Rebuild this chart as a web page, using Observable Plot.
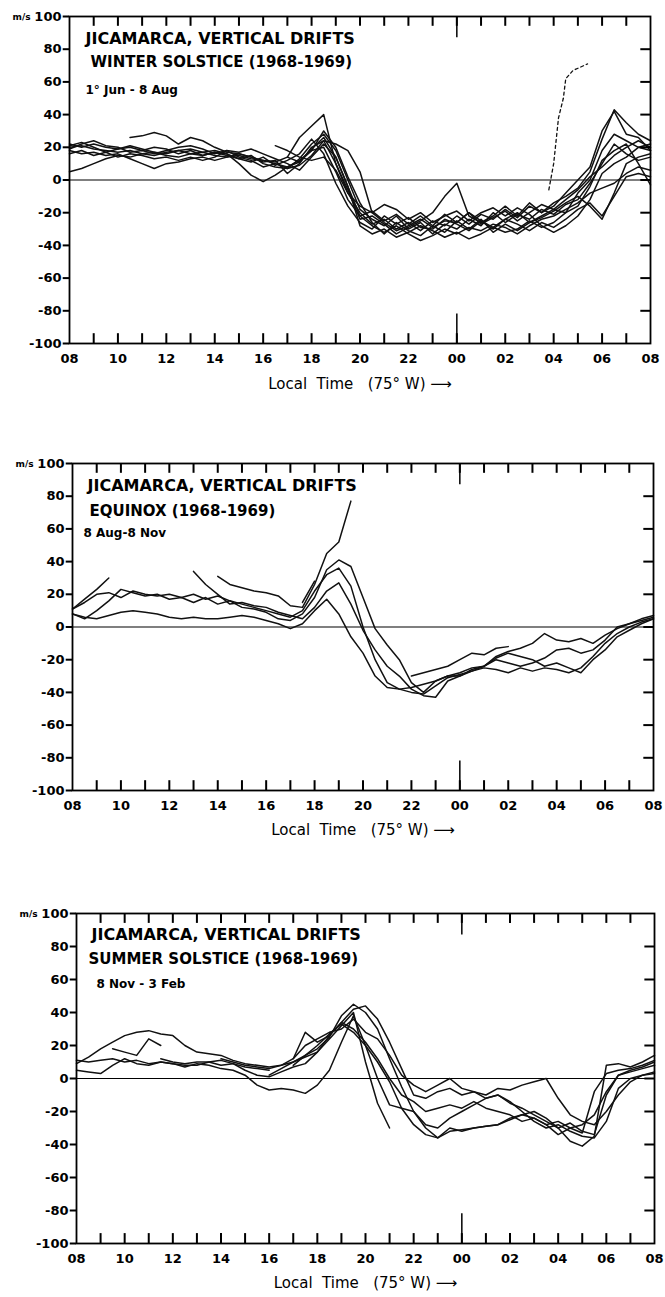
<!DOCTYPE html>
<html><head><meta charset="utf-8">
<script src="https://cdn.jsdelivr.net/npm/d3@7"></script>
<script src="https://cdn.jsdelivr.net/npm/@observablehq/plot@0.6"></script>
<style>
body{margin:0;background:#fff;}
#chart{width:665px;}
#chart svg{display:block;}
</style></head><body><div id="chart"></div>
<script>
const _ = null;
// time grid: local time in hours, 08 -> 08 next day (32), every half hour
const hours = d3.range(8, 32.001, 0.5);
const yTicks = [-100, -80, -60, -40, -20, 0, 20, 40, 60, 80, 100];
const hourTicks = [9,10,11,12,13,14,15,16,17,18,19,20,21,22,23,24,25,26,27,28,29,30,31];
const labelTicks = [8,10,12,14,16,18,20,22,24,26,28,30,32];
const midnight = [24];

// ---------- WINTER SOLSTICE ----------
const w1 = [20,21,19,18,17,18,16,15, 17,18,16,17,15,14,15,13, 12,11,14,26,33,40,10,-8, -20,-27,-24,-30,-26,-31,-25,-28, -22,-27,-21,-24,-18,-23,-16,-20, -14,-10,-5,5,25,43,35,28, 24];
const w2 = [22,20,22,20,19,20,18,20, 19,16,18,15,17,16,13,15, 10,8,7,13,22,28,18,0, -18,-24,-28,-22,-30,-26,-33,-27, -30,-24,-28,-20,-26,-21,-24,-18, -21,-15,-12,-2,10,22,16,12, 14];
const w3 = [5,7,10,13,15,14,16,17, 16,18,19,17,18,16,10,3, -1,3,8,12,18,20,5,-12, -22,-28,-32,-28,-33,-37,-34,-30, -33,-29,-31,-27,-29,-33,-28,-24, -22,-18,-14,-8,-5,-2,4,8, 6];
const w4 = [_,_,_,_,_,26,27,29, 27,22,26,24,20,17,16,14, 12,10,7,9,15,24,22,18, 5,-20,-26,-31,-28,-24,-29,-25, -26,-20,-25,-29,-24,-20,-26,-22, -18,-20,-8,0,18,28,24,20, 18];
const w5 = [18,16,17,15,16,13,10,7, 10,11,13,14,12,14,16,14, 11,12,4,10,20,24,10,-6, -24,-22,-27,-33,-29,-25,-20,-10, -2,-22,-26,-22,-16,-22,-14,-20, -16,-8,0,8,30,42,28,26, 18];
const w6 = [21,23,20,17,19,21,19,17, 15,14,16,15,17,15,13,11, 14,9,12,16,25,16,-2,-16, -26,-30,-22,-27,-23,-29,-30,-24, -27,-31,-25,-30,-24,-27,-31,-26, -29,-24,-18,-14,-22,-10,2,4, 2];
const w7 = [_,_,_,_,_,_,_,_, _,_,_,_,_,_,_,_, _,21,18,14,12,14,6,-8, -16,-20,-15,-18,-24,-20,-26,-22, -19,-25,-20,-17,-22,-17,-21,-28, -32,-28,-22,-12,4,10,14,20, 22];
const w8 = [16,18,15,17,14,16,15,13, 14,12,14,12,14,18,17,19, 16,13,10,6,14,22,14,-4, -28,-33,-30,-35,-32,-28,-31,-35, -32,-36,-33,-29,-32,-30,-25,-29, -26,-20,-16,-4,12,18,22,10, -3];
const w9 = [_,_,_,_,_,_,_,_, _,_,_,_,_,_,_,_, _,_,14,11,18,30,20,2, -14,-26,-33,-26,-31,-34,-28,-32, -25,-30,-24,-32,-27,-31,-26,-23, -19,-14,-10,-16,-24,-8,10,14, 16];
const w10 = [19,22,24,21,20,17,18,16, 18,20,21,19,16,18,14,12, 8,10,8,11,19,26,14,-4, -22,-19,-25,-21,-27,-22,-28,-21, -26,-20,-27,-23,-19,-25,-20,-15, -18,-12,-6,2,8,15,20,24, 20];
const winterDashT = [27.8, 28.0, 28.2, 28.4, 28.5, 28.8, 29.1, 29.4];
const winterDashV = [-6, 10, 38, 50, 62, 67, 69, 71];

// ---------- EQUINOX ----------
const e1 = [11,17,23,30,_,_,_,_, _,_,_,_,_,_,_,_, _,_,_,_,_,_,_,_, _,_,_,_,_,_,_,_, _,_,_,_,_,_,_,_, _,_,_,_,_,_,_,_, _];
const e2 = [11,15,20,21,18,22,20,19, 20,18,20,17,19,16,14,12, 10,8,6,10,22,32,36,25, 0,-20,-34,-38,-37,-35,-33,-30, -30,-26,-24,-18,-15,-13,-10,-4, -8,-9,-7,-10,-5,-1,2,5, 7];
const e3 = [8,5,10,16,23,21,19,20, 17,18,15,18,14,16,12,11, 9,5,4,8,18,35,41,37, 18,-1,-11,-20,-34,-40,-33,-30, -28,-25,-24,-20,-22,-24,-22,-19, -14,-13,-16,-14,-8,0,2,4, 6];
const e4 = [8,6,5,7,9,10,9,8, 6,5,6,5,5,6,7,6, 4,2,-1,2,10,17,8,-6, -16,-30,-37,-38,-40,-41,-36,-31, -29,-27,-25,-26,-28,-25,-27,-25, -26,-28,-25,-18,-10,-4,0,3, 5];
const e5 = [_,_,_,_,_,_,_,_, _,_,34,26,20,14,15,13, 12,9,7,5,12,22,27,14, -2,-14,-24,-30,-38,-42,-43,-33, -30,-27,-24,-19,-16,-18,-20,-24, -22,-25,-28,-20,-14,-6,-2,2, 5];
const e6 = [_,_,_,_,_,_,_,_, _,_,_,_,31,26,24,22, 21,19,13,12,26,45,52,77, _,_,_,_,_,_,_,_, _,_,_,_,_,_,_,_, _,_,_,_,_,_,_,_, _];
const e7 = [_,_,_,_,_,_,_,_, _,_,_,_,_,_,_,_, _,_,_,15,28,_,_,_, _,_,_,_,_,_,_,_, _,_,_,_,_,_,_,_, _,_,_,_,_,_,_,_, _];
const e8 = [_,_,_,_,_,_,_,_, _,_,_,_,_,_,_,_, _,_,_,_,_,_,_,_, _,_,_,_,-30,-28,-26,-24, -20,-16,-17,-13,-12,_,_,_, _,_,_,_,_,_,_,_, _];

// ---------- SUMMER SOLSTICE ----------
const s1 = [9,13,18,22,26,28,29,27, 26,20,16,15,14,11,9,8, 7,8,10,14,18,25,38,45, 40,30,12,-5,-20,-30,-36,-30, -32,-30,-29,-28,-25,-22,-24,-28, -26,-30,-33,-8,3,5,6,8, 11];
const s2 = [_,_,_,_,_,_,_,_, _,_,_,_,_,_,_,_, 2,6,10,13,16,24,32,40, 10,-15,-30,_,_,_,_,_, _,_,_,_,_,_,_,_, _,_,_,_,_,_,_,_, _];
const s3 = [11,10,11,12,10,11,9,10, 9,8,8,10,11,9,5,2, 1,4,7,9,16,26,34,42, 44,36,22,6,-10,-12,-8,-6, -10,-8,-12,-10,-15,-18,-22,-26, -30,-27,-32,-34,-10,2,4,6, 8];
const s4 = [5,4,3,8,12,9,8,10, 9,7,9,8,6,5,2,-4, -7,-6,-7,-9,-4,5,22,38, 20,0,-16,-18,-20,-28,-30,-24, -20,-16,-12,-10,-14,-20,-26,-30, -28,-32,-35,-36,-26,-6,0,2, 4];
const s5 = [_,_,_,_,_,_,_,_, _,_,_,_,12,10,8,7, 6,8,12,20,24,28,30,36, 28,24,14,2,-4,-8,-4,0, -6,-8,-10,-6,-7,-4,-2,0, -12,-22,-26,-28,-20,-10,-2,2, 3];
const s6 = [_,_,_,_,_,_,_,_, _,_,_,_,_,_,_,_, _,_,8,14,20,27,33,28, 20,10,-2,-18,-28,-34,-36,-32, -31,-30,-29,-28,-24,-22,-20,-24, -30,-38,-41,-35,8,9,7,10, 14];
const s7 = [_,_,_,_,_,_,_,_, _,_,_,_,_,_,_,_, _,_,12,28,22,26,34,30, 22,12,0,-10,-14,-20,-18,-16, -18,-14,-18,-20,-22,-26,-24,-28, -34,-30,-28,-22,-8,2,5,7, 10];
const s8 = [_,_,_,18,16,14,24,20, _,_,_,_,_,_,_,_, _,_,_,_,_,_,_,_, _,_,_,_,_,_,_,_, _,_,_,_,_,_,_,_, _,_,_,_,_,_,_,_, _];
const s9 = [_,_,_,_,_,_,_,12, 10,9,10,10,8,9,7,6, 5,_,_,_,_,_,_,_, _,_,_,_,_,_,_,_, _,_,_,_,_,_,_,_, _,_,_,_,_,_,_,_, _];

const panels = [
  {series:[w1,w2,w3,w4,w5,w6,w7,w8,w9,w10], dashT: winterDashT, dashV: winterDashV,
   title1:"JICAMARCA, VERTICAL DRIFTS", title2:"WINTER SOLSTICE (1968-1969)", title3:"1° Jun - 8 Aug",
   h:432, mt:16, mb:89, ml:69, mr:15,
   t1:[16,22,238], t2:[21,46,245], t3:[16,74,108], xl:41},
  {series:[e1,e2,e3,e4,e5,e6,e7,e8],
   title1:"JICAMARCA, VERTICAL DRIFTS", title2:"EQUINOX (1968-1969)", title3:"8 Aug-8 Nov",
   h:432, mt:31, mb:74, ml:72, mr:12,
   t1:[15,22,241], t2:[17,48,178], t3:[11,70,90], xl:40},
  {series:[s1,s2,s3,s4,s5,s6,s7,s8,s9],
   title1:"JICAMARCA, VERTICAL DRIFTS", title2:"SUMMER SOLSTICE (1968-1969)", title3:"8 Nov - 3 Feb",
   h:433, mt:49, mb:54, ml:76, mr:11,
   t1:[15,21,241], t2:[12,46,245], t3:[20,71,97], xl:40}
];

const font = "'DejaVu Sans', 'Liberation Sans', sans-serif";
const fmtHour = d => String(d % 24).padStart(2, "0");

function drawPanel(cfg) {
  const rows = [];
  cfg.series.forEach((vals, k) => vals.forEach((v, i) => rows.push({t: hours[i], v, k})));
  const marks = [
    Plot.ruleY([0], {stroke: "black", strokeWidth: 1.2}),
    Plot.line(rows, {x: "t", y: "v", z: "k", stroke: "#111", strokeWidth: 1.5})
  ];
  if (cfg.dashT) {
    marks.push(Plot.line(cfg.dashT.map((t, i) => ({t, v: cfg.dashV[i]})),
      {x: "t", y: "v", stroke: "#111", strokeWidth: 1.3, strokeDasharray: "3,3"}));
  }
  marks.push(
    Plot.frame({stroke: "black", strokeWidth: 1.8}),
    // tick marks: inward at top/bottom/right, outward at left
    Plot.ruleX(hourTicks, {y1: -100, y2: -94, stroke: "black", strokeWidth: 2}),
    Plot.ruleX(hourTicks, {y1: 100, y2: 94, stroke: "black", strokeWidth: 2}),
    Plot.ruleY(yTicks.slice(1, -1), {x1: 31.6, x2: 32, stroke: "black", strokeWidth: 2}),
    Plot.ruleY(yTicks, {x1: 7.74, x2: 8, stroke: "black", strokeWidth: 2}),
    Plot.ruleX(midnight, {y1: -100, y2: -82, stroke: "black", strokeWidth: 1.5}),
    Plot.ruleX(midnight, {y1: 100, y2: 87, stroke: "black", strokeWidth: 1.5}),
    Plot.axisY({anchor: "left", ticks: yTicks, tickSize: 0, tickPadding: 8, tickFormat: d => String(d), label: null, fontSize: 13, fontWeight: "bold"}),
    Plot.axisX({anchor: "bottom", ticks: labelTicks, tickSize: 0, tickPadding: 10, tickFormat: fmtHour, label: null, fontSize: 13, fontWeight: "bold"}),
    Plot.text(["m/s"], {frameAnchor: "top-left", dx: -57, dy: -3, textAnchor: "start", fontSize: 9, fontWeight: "bold"}),
    Plot.text([cfg.title1], {frameAnchor: "top-left", dx: cfg.t1[0], dy: cfg.t1[1], textAnchor: "start", lineAnchor: "middle", fontSize: 16, fontWeight: "bold", ariaLabel: "title1"}),
    Plot.text([cfg.title2], {frameAnchor: "top-left", dx: cfg.t2[0], dy: cfg.t2[1], textAnchor: "start", lineAnchor: "middle", fontSize: 15, fontWeight: "bold", ariaLabel: "title2"}),
    Plot.text([cfg.title3], {frameAnchor: "top-left", dx: cfg.t3[0], dy: cfg.t3[1], textAnchor: "start", lineAnchor: "middle", fontSize: 12, fontWeight: "bold", ariaLabel: "title3"}),
    Plot.text(["Local  Time   (75° W) ⟶"], {frameAnchor: "bottom", dy: cfg.xl, lineAnchor: "middle", fontSize: 15, fontWeight: "normal", ariaLabel: "xlabel"})
  );
  const svg = Plot.plot({
    width: 665, height: cfg.h,
    marginTop: cfg.mt, marginBottom: cfg.mb, marginLeft: cfg.ml, marginRight: cfg.mr,
    x: {domain: [8, 32], label: null},
    y: {domain: [-100, 100], label: null},
    style: {fontFamily: font, color: "black", background: "white", overflow: "visible"},
    marks
  });
  const s = d3.select(svg);
  s.select('g[aria-label="title1"] text').attr("textLength", cfg.t1[2]).attr("lengthAdjust", "spacingAndGlyphs");
  s.select('g[aria-label="title2"] text').attr("textLength", cfg.t2[2]).attr("lengthAdjust", "spacingAndGlyphs");
  s.select('g[aria-label="title3"] text').attr("textLength", cfg.t3[2]).attr("lengthAdjust", "spacingAndGlyphs");
  s.select('g[aria-label="xlabel"] text').style("white-space", "pre").attr("letter-spacing", "1.5");
  return svg;
}

const root = document.getElementById("chart");
panels.forEach(p => root.appendChild(drawPanel(p)));
</script>
</body></html>
